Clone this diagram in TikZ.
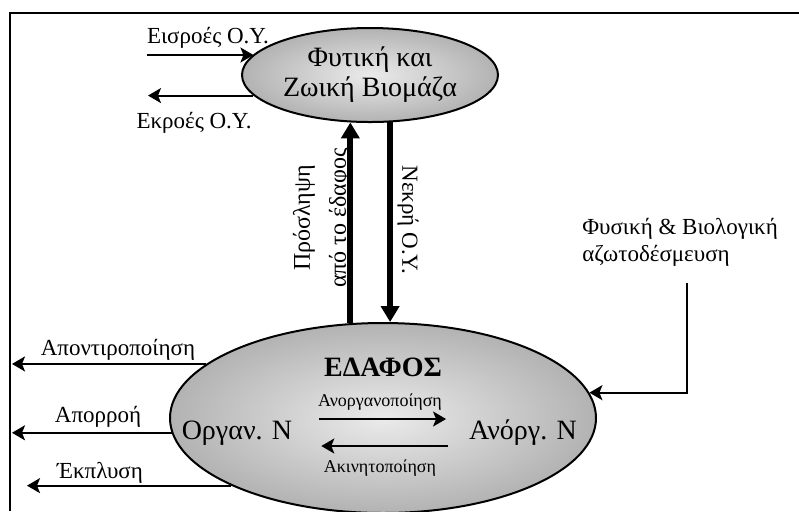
\documentclass[tikz,border=0pt]{standalone}
\usepackage{fontspec}
\setmainfont{Liberation Serif}
\usetikzlibrary{shapes.geometric,arrows.meta,positioning}

\begin{document}
\begin{tikzpicture}[
    x=0.5pt, y=-0.5pt,
    pool/.style={draw, ellipse, line width=1pt, inner sep=0pt,
                 inner color=black!8, outer color=black!30, align=center},
    flow/.style={-{Stealth[length=6.5pt,width=7.5pt,inset=1.5pt]}, line width=1pt},
    bigflow/.style={-{Triangle[length=8pt,width=9pt]}, line width=3pt},
    lbl/.style={font=\fontsize{11.5}{13.5}\selectfont, inner sep=1pt},
    small/.style={font=\fontsize{9}{11}\selectfont, inner sep=1pt},
    big/.style={font=\fontsize{14}{15}\selectfont}
]
\useasboundingbox (0,0) rectangle (799,511);

% frame
\draw[line width=1pt] (799,13) -- (10,13) -- (10,511);

% Top: biomass
\node[pool, big, minimum width=128pt, minimum height=47pt] (bio) at (370,75)
  {Φυτική και\\Ζωική Βιομάζα};
\coordinate (insrc) at (147,55);
\coordinate (outend) at (148,95);
\node[lbl] (inlbl) at (208,38) {Εισροές Ο.Υ.};
\node[lbl] (outlbl) at (194,123) {Εκροές Ο.Υ.};
\draw[flow] (insrc) -- (insrc -| bio.170);
\draw[flow] (bio.190) -- (bio.190 -| outend);

% Bottom: soil
\node[pool, minimum width=213pt, minimum height=95pt] (soil) at (383,418) {};
\node[font=\bfseries\fontsize{14}{15}\selectfont] (soilname) at (383,367) {ΕΔΑΦΟΣ};
\node[big] (org) at (237,433) {Οργαν. N};
\node[big] (inorg) at (523,433) {Ανόργ. N};
\node[small] (minlbl) at (380,402) {Ανοργανοποίηση};
\node[small] (immlbl) at (380,468) {Ακινητοποίηση};
\draw[flow, shorten <=10pt, shorten >=8pt] ([yshift=7pt]org.east) -- ([yshift=7pt]inorg.west);
\draw[flow, shorten <=7pt, shorten >=11pt] ([yshift=-6.5pt]inorg.west) -- ([yshift=-6.5pt]org.east);

% between the two
\draw[bigflow] (soil.109) -- (soil.109 |- bio.247);
\draw[bigflow] (bio.293) -- (bio.293 |- soil.86);
\node[rotate=90, align=center, inner sep=1pt, font=\fontsize{12}{14}\selectfont] (uptake) at (322,218)
  {Πρόσληψη\\[4pt]από το έδαφος};
\node[lbl, rotate=-90] (dead) at (408,220) {Νεκρή Ο.Υ.};

% losses to the left
\coordinate (edgeA) at (12,0);
\coordinate (edgeB) at (27,0);
\node[lbl] (denit) at (118,350) {Αποντιροποίηση};
\node[lbl] (runoff) at (98,417) {Απορροή};
\node[lbl] (leach) at (100,473) {Έκπλυση};
\draw[flow] (soil.163) -- (soil.163 -| edgeA);
\draw[flow] (soil.184) -- (soil.184 -| edgeA);
\draw[flow] (soil.204) -- (soil.204 -| edgeB);

% fixation
\node[lbl, align=left, anchor=west] (fix) at (580,242) {Φυσική \& Βιολογική\\αζωτοδέσμευση};
\coordinate (fixtop) at (687,283);
\draw[flow] (fixtop) |- (soil.7);

\end{tikzpicture}
\end{document}
